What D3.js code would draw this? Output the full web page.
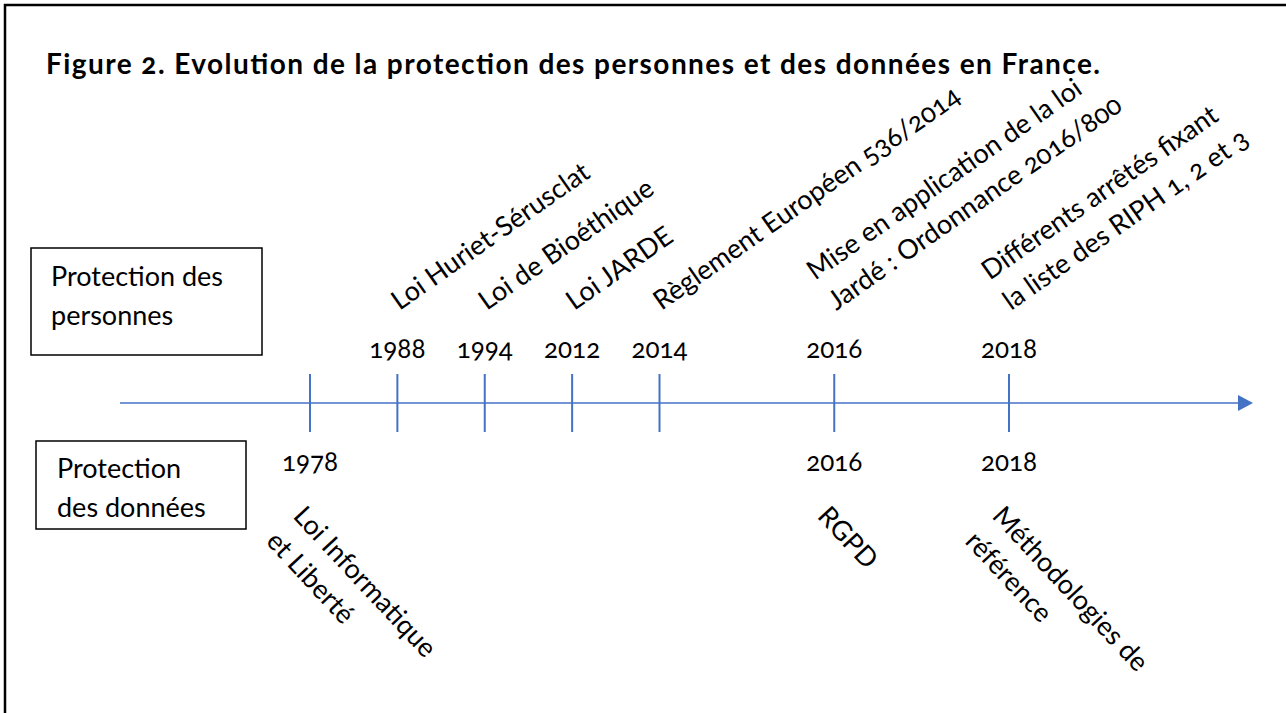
<!DOCTYPE html>
<html>
<head>
<meta charset="utf-8">
<script src="https://cdn.jsdelivr.net/npm/d3@7"></script>
<style>
  body { margin: 0; background: #fff; }
  svg text { font-family: Lato, "Open Sans", sans-serif; fill: #000; font-variant-numeric: oldstyle-nums; }
</style>
</head>
<body>
<script>

// timeline data
var years = [1978, 1988, 1994, 2012, 2014, 2016, 2018];

var personnesYears = [1988, 1994, 2012, 2014, 2016, 2018];
var personnesLabels = [
  ["Loi Huriet-Sérusclat"],
  ["Loi de Bioéthique"],
  ["Loi JARDE"],
  ["Règlement Européen 536/2014"],
  ["Mise en application de la loi", "Jardé : Ordonnance 2016/800"],
  ["Différents arrêtés fixant", "la liste des RIPH 1, 2 et 3"]
];

var donneesYears = [1978, 2016, 2018];
var donneesLabels = [
  ["Loi Informatique", "et Liberté"],
  ["RGPD"],
  ["Méthodologies de", "référence"]
];

var title = "Figure 2. Evolution de la protection des personnes et des données en France.";
var boxTop = ["Protection des", "personnes"];
var boxBottom = ["Protection", "des données"];

var width = 1286, height = 713;
var blue = "#4472C4";
var axisY = 403, lineH = 37;

var svg = d3.select("body").append("svg")
  .attr("width", width)
  .attr("height", height);

// frame
svg.append("rect")
  .attr("x", 5).attr("y", 5)
  .attr("width", width + 10).attr("height", height + 10)
  .attr("fill", "none")
  .attr("stroke", "#000")
  .attr("stroke-width", 2.5);

svg.append("text")
  .attr("x", 46).attr("y", 74)
  .attr("textLength", 1054)
  .attr("lengthAdjust", "spacing")
  .style("font-size", "28px")
  .style("font-weight", "bold")
  .text(title);

// the two side boxes
function box(bx, by, w, h, lines, tx, ty, gap) {
  svg.append("rect")
    .attr("x", bx).attr("y", by)
    .attr("width", w).attr("height", h)
    .attr("fill", "none")
    .attr("stroke", "#000")
    .attr("stroke-width", 1.5);
  svg.append("text")
    .style("font-size", "27px")
    .selectAll("tspan")
    .data(lines)
    .enter().append("tspan")
    .attr("x", tx)
    .attr("y", function(d, i) { return ty + i * gap; })
    .text(function(d) { return d; });
}
box(31, 248, 231, 107, boxTop, 51, 286, 39);
box(36, 441, 210, 88, boxBottom, 57, 478, 39);

// each step along the line gets room for the slanted label it carries:
// a two-line label needs twice the gap of a one-line label
var steps = [0];
years.slice(1).forEach(function(y) {
  var k = personnesYears.indexOf(y);
  steps.push(steps[steps.length - 1] + (k < 0 ? 1 : personnesLabels[k].length));
});
var pos = d3.scaleOrdinal().domain(years).range(steps);

var x0 = d3.scaleLinear()
  .domain([0, steps[steps.length - 1]])
  .range([310, 1009]);
function x(year) { return x0(pos(year)); }

// arrow axis
svg.append("line")
  .attr("x1", 120).attr("x2", 1238)
  .attr("y1", axisY).attr("y2", axisY)
  .attr("stroke", blue)
  .attr("stroke-width", 1.5);

svg.append("path")
  .attr("d", "M1238," + (axisY - 8) + "L1253," + axisY + "L1238," + (axisY + 8) + "Z")
  .attr("fill", blue);

svg.selectAll(".tick")
  .data(years)
  .enter().append("line")
  .attr("class", "tick")
  .attr("x1", function(d) { return x(d); })
  .attr("x2", function(d) { return x(d); })
  .attr("y1", axisY - 29)
  .attr("y2", axisY + 29)
  .attr("stroke", blue)
  .attr("stroke-width", 2);

// year labels above and below
svg.selectAll(".yearTop")
  .data(personnesYears)
  .enter().append("text")
  .attr("class", "yearTop")
  .attr("x", function(d) { return x(d); })
  .attr("y", 358)
  .attr("text-anchor", "middle")
  .style("font-size", "26px")
  .text(function(d) { return d; });

svg.selectAll(".yearBottom")
  .data(donneesYears)
  .enter().append("text")
  .attr("class", "yearBottom")
  .attr("x", function(d) { return x(d); })
  .attr("y", 471)
  .attr("text-anchor", "middle")
  .style("font-size", "26px")
  .text(function(d) { return d; });

// slanted event labels
var evTop = svg.selectAll(".evTop")
  .data(d3.zip(personnesYears, personnesLabels))
  .enter().append("text")
  .attr("class", "evTop")
  .attr("transform", function(d) { return "translate(" + (x(d[0]) + 2) + ",311) rotate(-35)"; })
  .style("font-size", "27px");

evTop.selectAll("tspan")
  .data(function(d) { return d[1].map(function(t, i) { return {t: t, i: i, n: d[1].length}; }); })
  .enter().append("tspan")
  .attr("x", 0)
  .attr("y", function(d) { return (d.i - (d.n - 1)) * lineH; })
  .text(function(d) { return d.t; });

var evBottom = svg.selectAll(".evBottom")
  .data(d3.zip(donneesYears, donneesLabels))
  .enter().append("text")
  .attr("class", "evBottom")
  .attr("transform", function(d) { return "translate(" + (x(d[0]) - 18) + ",517) rotate(47)"; })
  .style("font-size", "27px");

evBottom.selectAll("tspan")
  .data(function(d) { return d[1]; })
  .enter().append("tspan")
  .attr("x", 0)
  .attr("y", function(d, i) { return i * lineH; })
  .text(function(d) { return d; });

</script>
</body>
</html>
